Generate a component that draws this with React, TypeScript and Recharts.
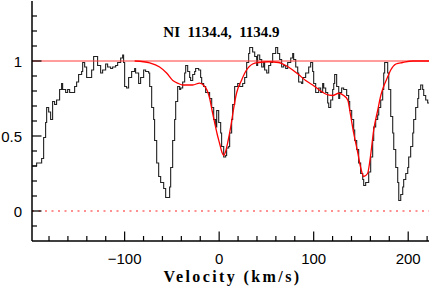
import React from 'react';
import { ComposedChart, Line, XAxis, YAxis, ReferenceLine, Label } from 'recharts';

const SPEC_VEL = [
  -198.4, -193.1, -187.8, -185.7, -183.6, -182.5, -180.4, -178.3, -176.2, -174.1,
  -172.0, -168.8, -166.7, -165.6, -162.4, -160.3, -158.2, -156.1, -152.9, -150.8,
  -148.7, -145.5, -144.4, -142.3, -140.2, -138.1, -134.9, -132.8, -129.6, -128.6,
  -125.4, -123.3, -120.1, -118.0, -114.8, -112.7, -109.5, -107.4, -104.2, -102.1,
  -101.1, -100.0, -97.9, -95.8, -94.7, -92.6, -89.4, -88.4, -85.2, -83.1,
  -79.9, -77.8, -74.6, -73.5, -71.4, -69.3, -68.3, -66.1, -64.0, -61.9,
  -58.7, -56.6, -54.5, -52.4, -51.3, -49.2, -47.1, -46.0, -43.9, -41.8,
  -40.7, -38.6, -36.5, -35.4, -33.3, -31.2, -30.2, -28.0, -25.9, -24.9,
  -21.7, -19.6, -18.5, -16.4, -14.3, -11.1, -10.1, -7.9, -5.8, -3.7,
  -2.6, -0.5, 1.6, 2.6, 4.8, 6.9, 7.9, 10.1, 11.1, 13.2,
  14.3, 16.4, 19.6, 21.7, 24.9, 27.0, 29.1, 31.2, 32.3, 35.4,
  37.6, 39.7, 40.7, 42.9, 45.0, 47.1, 48.1, 50.3, 52.4, 54.5,
  56.6, 59.8, 61.9, 64.0, 66.1, 68.3, 70.4, 72.5, 75.7, 77.8,
  78.8, 81.0, 83.1, 84.1, 87.3, 88.4, 91.5, 94.7, 96.8, 98.9,
  100.0, 102.1, 105.3, 107.4, 109.5, 110.6, 112.7, 114.8, 115.9, 118.0,
  120.1, 121.2, 122.2, 124.3, 126.5, 127.5, 129.6, 131.7, 134.9, 137.0,
  138.1, 140.2, 142.3, 143.4, 145.5, 147.6, 149.7, 151.9, 152.9, 155.0,
  157.1, 158.2, 160.3, 162.4, 163.5, 165.6, 167.7, 168.8, 170.9, 173.0,
  174.1, 175.1, 177.2, 178.3, 179.4, 181.5, 183.6, 184.7, 186.8, 188.9,
  190.0, 192.1, 194.2, 195.2, 197.4, 199.5, 200.5, 202.6, 204.8, 205.8,
  207.9, 210.1, 211.1, 213.2, 215.3, 216.4, 218.5, 220.6, 222.0,
];

const SPEC_FLUX = [
  0.30, 0.32, 0.35, 0.49, 0.59, 0.69, 0.66, 0.61, 0.73, 0.71,
  0.74, 0.81, 0.85, 0.81, 0.79, 0.81, 0.79, 0.79, 0.83, 0.86,
  0.91, 0.93, 0.99, 0.96, 0.89, 0.89, 0.94, 1.03, 1.03, 0.97,
  0.92, 0.94, 0.98, 0.96, 0.95, 0.96, 0.97, 0.99, 1.02, 1.04,
  0.99, 0.83, 0.82, 0.89, 0.89, 0.93, 0.95, 0.92, 0.85, 0.89,
  0.94, 0.93, 0.92, 0.83, 0.69, 0.61, 0.47, 0.32, 0.23, 0.19,
  0.15, 0.09, 0.09, 0.16, 0.29, 0.47, 0.61, 0.73, 0.83, 0.81,
  0.82, 0.86, 0.92, 0.97, 0.93, 0.89, 0.87, 0.91, 0.93, 0.95,
  0.94, 0.89, 0.85, 0.83, 0.79, 0.79, 0.75, 0.69, 0.61, 0.56,
  0.67, 0.59, 0.52, 0.43, 0.36, 0.37, 0.42, 0.43, 0.52, 0.61,
  0.71, 0.83, 0.85, 0.83, 0.85, 0.89, 0.99, 1.05, 1.09, 1.06,
  1.03, 0.97, 1.04, 1.01, 0.96, 0.99, 0.94, 0.92, 0.97, 0.99,
  1.05, 1.09, 1.05, 1.01, 0.96, 0.97, 0.95, 0.99, 1.02, 1.05,
  1.01, 0.96, 0.92, 0.86, 0.85, 0.89, 0.92, 0.96, 0.99, 0.93,
  0.85, 0.79, 0.82, 0.79, 0.85, 0.82, 0.79, 0.72, 0.69, 0.74,
  0.81, 0.85, 0.91, 0.83, 0.75, 0.79, 0.82, 0.81, 0.77, 0.73,
  0.67, 0.61, 0.54, 0.47, 0.41, 0.32, 0.25, 0.21, 0.17, 0.19,
  0.19, 0.26, 0.36, 0.47, 0.56, 0.61, 0.64, 0.69, 0.74, 0.81,
  0.92, 0.99, 0.99, 0.92, 0.81, 0.63, 0.52, 0.41, 0.29, 0.19,
  0.07, 0.11, 0.16, 0.21, 0.25, 0.29, 0.36, 0.43, 0.52, 0.61,
  0.69, 0.75, 0.81, 0.84, 0.81, 0.77, 0.74, 0.72, 0.72,
];

const MODEL_VEL = [
  -89.4, -80, -73.5, -63, -55.6, -49, -43, -38.6, -28, -20.6,
  -15.3, -12.5, -10, -7.5, -4.8, -2, 0.5, 3, 4.8, 7,
  9.5, 12.2, 15, 17.5, 20, 22.8, 28, 35.4, 42, 52,
  63, 70.4, 77.8, 84, 91.5, 99, 105.3, 112.7, 120, 126.5,
  131.7, 136, 139, 142.3, 146.6, 149.7, 152.9, 157, 160, 163.5,
  167.7, 171, 174, 178, 181.5, 187, 194, 205, 222,
];

const MODEL_FLUX = [
  1.0, 0.995, 0.987, 0.96, 0.92, 0.87, 0.85, 0.84, 0.84, 0.853,
  0.83, 0.8, 0.75, 0.67, 0.59, 0.51, 0.45, 0.39, 0.37, 0.40,
  0.47, 0.56, 0.67, 0.76, 0.82, 0.86, 0.93, 0.98, 0.99, 0.995,
  0.99, 0.97, 0.94, 0.91, 0.87, 0.84, 0.81, 0.78, 0.77, 0.785,
  0.77, 0.74, 0.64, 0.52, 0.39, 0.29, 0.23, 0.25, 0.36, 0.54,
  0.67, 0.77, 0.83, 0.89, 0.94, 0.98, 0.99, 1.0, 1.0,
];

const X_TICKS = [-180, -160, -140, -120, -100, -80, -60, -40, -20, 0, 20, 40, 60, 80, 100, 120, 140, 160, 180, 200, 220];
const X_MAJOR = [-100, 0, 100, 200];
const Y_TICKS = [-0.1, 0, 0.1, 0.2, 0.3, 0.4, 0.5, 0.6, 0.7, 0.8, 0.9, 1, 1.1, 1.2, 1.3];
const Y_MAJOR = [0, 0.5, 1];
const TITLE = 'NI\u00a0\u00a01134.4,\u00a0\u00a01134.9';
const X_LABEL = 'Velocity (km/s)';

const specData = SPEC_VEL.map((v, i) => ({ v, f: SPEC_FLUX[i] }));
const modelData = MODEL_VEL.map((v, i) => ({ v, f: MODEL_FLUX[i] }));

const fmtX = (v: number) => (v < 0 ? '\u2212' + Math.abs(v) : String(v));

const TICK_COLOR = '#000';

const BottomTick = (p: any) => {
  const major = X_MAJOR.includes(p.payload.value);
  return (
    <g>
      <line x1={p.x} x2={p.x} y1={p.y} y2={p.y - (major ? 9.5 : 5)} stroke={TICK_COLOR} strokeWidth={1.2} />
      {major && (
        <text x={p.x} y={p.y + 23} textAnchor="middle" fontFamily="Liberation Sans" fontSize={15} fill="#000">
          {fmtX(p.payload.value)}
        </text>
      )}
    </g>
  );
};

const TopTick = (p: any) => {
  const major = X_MAJOR.includes(p.payload.value);
  return <line x1={p.x} x2={p.x} y1={p.y} y2={p.y + (major ? 9.5 : 5)} stroke={TICK_COLOR} strokeWidth={1.2} />;
};

const LeftTick = (p: any) => {
  const major = Y_MAJOR.includes(p.payload.value);
  return (
    <g>
      <line x1={p.x} x2={p.x + (major ? 9.5 : 5)} y1={p.y} y2={p.y} stroke={TICK_COLOR} strokeWidth={1.2} />
      {major && (
        <text x={p.x - 10} y={p.y + 6} textAnchor="end" fontFamily="Liberation Sans" fontSize={15} fill="#000">
          {String(p.payload.value)}
        </text>
      )}
    </g>
  );
};

const RightTick = (p: any) => {
  const major = Y_MAJOR.includes(p.payload.value);
  return <line x1={p.x} x2={p.x - (major ? 9.5 : 5)} y1={p.y} y2={p.y} stroke={TICK_COLOR} strokeWidth={1.2} />;
};

// bottom axis viewBox: x = plot left, y = plot bottom
const XLabelContent = (p: any) => {
  const vb = p.viewBox;
  return (
    <text
      x={vb.x + vb.width / 2 + 2}
      y={vb.y + 41}
      textAnchor="middle"
      fontFamily="Liberation Serif"
      fontWeight="bold"
      fontSize={16}
      letterSpacing={2.4}
      fill="#000"
    >
      {X_LABEL}
    </text>
  );
};

const TitleContent = (p: any) => {
  const vb = p.viewBox;
  return (
    <text
      x={vb.x + vb.width / 2 - 9}
      y={vb.y - 204}
      textAnchor="middle"
      fontFamily="Liberation Serif"
      fontWeight="bold"
      fontSize={15}
      fill="#000"
    >
      {TITLE}
    </text>
  );
};

const axisLine = { stroke: '#000', strokeWidth: 1.5 };

export default function App() {
  return (
    <div style={{ position: 'absolute', left: 0, top: 0, width: 432, height: 287, background: '#fff' }}>
      <ComposedChart width={432} height={287} margin={{ top: 1, right: 3, bottom: 0, left: 0 }}>
        <XAxis
          xAxisId="b"
          dataKey="v"
          type="number"
          domain={[-198, 222]}
          allowDataOverflow
          orientation="bottom"
          height={46}
          ticks={X_TICKS}
          interval={0}
          tickSize={0}
          tickMargin={0}
          tickLine={false}
          axisLine={axisLine}
          tick={BottomTick}
        >
          <Label content={XLabelContent} />
          <Label content={TitleContent} />
        </XAxis>
        <XAxis
          xAxisId="t"
          dataKey="v"
          type="number"
          domain={[-198, 222]}
          allowDataOverflow
          orientation="top"
          height={0}
          ticks={X_TICKS}
          interval={0}
          tickSize={0}
          tickMargin={0}
          tickLine={false}
          axisLine={axisLine}
          tick={TopTick}
        />
        <YAxis
          yAxisId="l"
          type="number"
          domain={[-0.2, 1.4]}
          allowDataOverflow
          orientation="left"
          width={32}
          ticks={Y_TICKS}
          interval={0}
          tickSize={0}
          tickMargin={0}
          tickLine={false}
          axisLine={axisLine}
          tick={LeftTick}
        />
        <YAxis
          yAxisId="r"
          type="number"
          domain={[-0.2, 1.4]}
          allowDataOverflow
          orientation="right"
          width={0}
          ticks={Y_TICKS}
          interval={0}
          tickSize={0}
          tickMargin={0}
          tickLine={false}
          axisLine={axisLine}
          tick={RightTick}
        />
        <ReferenceLine xAxisId="b" yAxisId="l" y={0} stroke="#ff2020" strokeWidth={1} strokeDasharray="2 4.5" />
        <Line
          xAxisId="b"
          yAxisId="l"
          data={specData}
          dataKey="f"
          type="stepAfter"
          stroke="#222"
          strokeWidth={1.1}
          dot={false}
          activeDot={false}
          isAnimationActive={false}
        />
        <ReferenceLine xAxisId="b" yAxisId="l" y={1} stroke="#ff3b3b" strokeWidth={1.1} />
        <Line
          xAxisId="b"
          yAxisId="l"
          data={modelData}
          dataKey="f"
          type="monotone"
          stroke="#ff0000"
          strokeWidth={1.3}
          dot={false}
          activeDot={false}
          isAnimationActive={false}
        />
      </ComposedChart>
    </div>
  );
}
